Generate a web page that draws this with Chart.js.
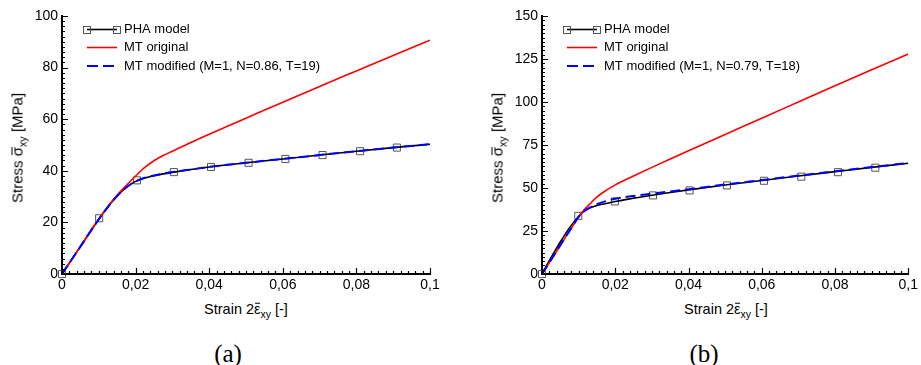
<!DOCTYPE html>
<html><head><meta charset="utf-8">
<script src="https://cdn.jsdelivr.net/npm/chart.js@4.4.0/dist/chart.umd.min.js"></script>
<style>
html,body{margin:0;padding:0;background:#fff;}
body{width:921px;height:365px;overflow:hidden;position:relative;font-family:"Liberation Sans",Arial,Helvetica,sans-serif;color:#000;}
canvas{position:absolute;top:0;}
.t{position:absolute;white-space:nowrap;font-size:14.5px;line-height:1;}
.ol{position:relative;display:inline-block;line-height:1;}
.ol::before{content:'';position:absolute;left:0.06em;right:0.02em;top:0.1em;border-top:1px solid #000;}
.t sub{font-size:0.72em;vertical-align:-0.4em;line-height:0;}
.cap{position:absolute;font-family:"Liberation Serif","DejaVu Serif",serif;font-size:25px;transform:translate(-50%,-50%);line-height:1;}
</style></head>
<body>
<canvas id="ca" width="460" height="300" style="left:0"></canvas>
<canvas id="cb" width="461" height="300" style="left:460px"></canvas>
<div class="t" style="left:17px;top:148px;transform:translate(-50%,-50%) rotate(-90deg);font-size:15px">Stress <span class="ol">σ</span><sub>xy</sub> [MPa]</div>
<div class="t" style="left:497px;top:148px;transform:translate(-50%,-50%) rotate(-90deg);font-size:15px">Stress <span class="ol">σ</span><sub>xy</sub> [MPa]</div>
<div class="t" style="left:246px;top:309px;transform:translate(-50%,-50%)">Strain 2<span class="ol">ε</span><sub>xy</sub> [-]</div>
<div class="t" style="left:726px;top:309px;transform:translate(-50%,-50%)">Strain 2<span class="ol">ε</span><sub>xy</sub> [-]</div>
<div class="cap" style="left:228px;top:353px">(a)</div>
<div class="cap" style="left:704px;top:353px">(b)</div>
<script>
// ---------- data ----------
const legendA = ['PHA model', 'MT original', 'MT modified (M=1, N=0.86, T=19)'];
const legendB = ['PHA model', 'MT original', 'MT modified (M=1, N=0.79, T=18)'];

const xTickValues = [0, 0.02, 0.04, 0.06, 0.08, 0.1];
const xTickLabels = ['0', '0,02', '0,04', '0,06', '0,08', '0,1'];
const yTickValuesA = [0, 20, 40, 60, 80, 100];
const yTickLabelsA = ['0', '20', '40', '60', '80', '100'];
const yTickValuesB = [0, 25, 50, 75, 100, 125, 150];
const yTickLabelsB = ['0', '25', '50', '75', '100', '125', '150'];

// (a)
const strainA = [0, 0.005, 0.01, 0.0125, 0.015, 0.0175, 0.02, 0.0225, 0.025, 0.0275, 0.03, 0.035, 0.04, 0.05, 0.06, 0.07, 0.08, 0.09, 0.1];
const mtOrigA = [0, 10.6, 21.2, 26.2, 30.6, 34.4, 38.0, 41.3, 43.9, 45.9, 47.6, 51.0, 54.2, 60.4, 66.6, 72.7, 78.7, 84.7, 90.6];
const mtModA  = [0, 10.6, 21.2, 26.0, 30.3, 33.6, 35.9, 37.3, 38.2, 38.9, 39.5, 40.5, 41.5, 43.1, 44.6, 46.1, 47.6, 49.0, 50.3];
const phaA    = [0, 10.7, 21.3, 26.1, 30.3, 33.6, 35.9, 37.2, 38.1, 38.8, 39.4, 40.5, 41.5, 43.1, 44.6, 46.1, 47.6, 49.0, 50.3];
const markerStrainA = [0, 0.0101, 0.0204, 0.0304, 0.0405, 0.0507, 0.0607, 0.0708, 0.081, 0.091];
const markerStressA = [0, 21.6, 36.3, 39.5, 41.5, 43.1, 44.6, 46.1, 47.6, 49.0];

// (b)
const strainB = [0, 0.0025, 0.005, 0.0075, 0.01, 0.0115, 0.013, 0.015, 0.0175, 0.02, 0.025, 0.03, 0.035, 0.04, 0.05, 0.06, 0.07, 0.08, 0.09, 0.1];
const mtOrigB = [0, 8.3, 16.6, 24.9, 33.1, 37.3, 40.6, 44.8, 48.6, 51.8, 57.0, 62.0, 66.9, 71.7, 81.1, 90.6, 100.0, 109.4, 118.7, 127.9];
const mtModB  = [0, 8.3, 16.7, 25.0, 33.2, 36.5, 38.6, 40.6, 42.4, 43.7, 45.4, 46.7, 48.0, 49.3, 52.0, 54.6, 57.2, 59.7, 62.2, 64.5];
const phaB    = [0, 9.6, 18.6, 26.8, 33.6, 36.6, 38.3, 39.8, 41.0, 42.1, 44.1, 45.8, 47.4, 48.9, 51.7, 54.4, 57.0, 59.5, 62.0, 64.4];
const markerStrainB = [0, 0.0099, 0.0199, 0.0303, 0.0403, 0.0505, 0.0606, 0.0708, 0.0808, 0.091];
const markerStressB = [0, 33.8, 42.2, 45.7, 48.6, 51.5, 54.2, 56.6, 59.2, 61.8];

// ---------- helpers ----------
const FONT = '"Liberation Sans", Arial, Helvetica, sans-serif';
const pts = (xs, ys) => xs.map((x, i) => ({x: x, y: ys[i]}));

const inwardTicks = {
  id: 'inwardTicks',
  afterDraw(chart, args, o) {
    const {ctx, chartArea: ca, scales: {x, y}} = chart;
    ctx.save();
    ctx.strokeStyle = '#000';
    ctx.lineWidth = 1.2;
    ctx.beginPath();
    for (let i = 0; i <= o.xMinorN; i++) {
      const v = x.min + i * (x.max - x.min) / o.xMinorN;
      const px = Math.round(x.getPixelForValue(v)) + 0.5;
      const len = (i % o.xPerMajor === 0) ? 6 : 3;
      ctx.moveTo(px, ca.bottom);
      ctx.lineTo(px, ca.bottom - len);
    }
    for (let i = 0; i <= o.yMinorN; i++) {
      const v = y.min + i * (y.max - y.min) / o.yMinorN;
      const py = Math.round(y.getPixelForValue(v)) + 0.5;
      const len = (i % o.yPerMajor === 0) ? 6 : 3;
      ctx.moveTo(ca.left, py);
      ctx.lineTo(ca.left + len, py);
    }
    ctx.stroke();
    ctx.restore();
  }
};

const customLegend = {
  id: 'customLegend',
  afterDraw(chart, args, o) {
    const {ctx, chartArea: ca} = chart;
    const x0 = ca.left + 25, x1 = ca.left + 55, tx = ca.left + 62;
    const rows = [ca.top + 13.5, ca.top + 31.5, ca.top + 50];
    ctx.save();
    // PHA
    ctx.strokeStyle = '#000'; ctx.lineWidth = 1.6;
    ctx.beginPath(); ctx.moveTo(x0, rows[0]); ctx.lineTo(x1, rows[0]); ctx.stroke();
    ctx.strokeStyle = '#555'; ctx.lineWidth = 1;
    [x0, x1].forEach(px => ctx.strokeRect(Math.round(px) - 3.5, Math.round(rows[0]) - 3.5, 7, 7));
    // MT original
    ctx.strokeStyle = '#ff0000'; ctx.lineWidth = 1.6;
    ctx.beginPath(); ctx.moveTo(x0, rows[1]); ctx.lineTo(x1, rows[1]); ctx.stroke();
    // MT modified
    ctx.strokeStyle = '#0000ff'; ctx.lineWidth = 2; ctx.setLineDash([11, 5]);
    ctx.beginPath(); ctx.moveTo(x0, rows[2]); ctx.lineTo(x1, rows[2]); ctx.stroke();
    ctx.setLineDash([]);
    ctx.fillStyle = '#000';
    ctx.font = '13px ' + FONT;
    ctx.textBaseline = 'middle';
    o.labels.forEach((t, i) => ctx.fillText(t, tx, rows[i]));
    ctx.restore();
  }
};

function makeChart(id, cfg) {
  return new Chart(document.getElementById(id), {
    type: 'scatter',
    data: {
      datasets: [
        {label: 'MT modified', data: pts(cfg.strain, cfg.mod), showLine: true, borderColor: '#0000ff', borderWidth: 2, borderDash: [10, 5], pointRadius: 0, cubicInterpolationMode: 'monotone', fill: false},
        {label: 'MT original', data: pts(cfg.strain, cfg.orig), showLine: true, borderColor: '#ff0000', borderWidth: 1.6, pointRadius: 0, cubicInterpolationMode: 'monotone', fill: false},
        {label: 'PHA model', data: pts(cfg.strain, cfg.pha), showLine: true, borderColor: '#000000', borderWidth: 1.6, pointRadius: 0, cubicInterpolationMode: 'monotone', fill: false},
        {label: 'PHA markers', data: pts(cfg.mStrain, cfg.mStress), showLine: false, pointStyle: 'rect', pointRadius: 5, borderColor: '#555', borderWidth: 1, backgroundColor: 'rgba(0,0,0,0)', clip: false}
      ]
    },
    options: {
      responsive: false, animation: false, devicePixelRatio: 1,
      layout: {padding: {top: 16, right: cfg.padRight, left: 0, bottom: 0}},
      events: [],
      plugins: {
        legend: {display: false}, tooltip: {enabled: false},
        inwardTicks: {xMinorN: 50, xPerMajor: 10, yMinorN: cfg.yMinorN, yPerMajor: 10},
        customLegend: {labels: cfg.legend}
      },
      scales: {
        x: {
          type: 'linear', min: 0, max: 0.1,
          grid: {display: false, drawTicks: false},
          border: {display: true, color: '#000', width: 2},
          afterBuildTicks: s => { s.ticks = xTickValues.map(v => ({value: v})); },
          afterFit: s => { s.height = 26; },
          ticks: {color: '#000', font: {family: FONT, size: 14}, padding: 3, maxRotation: 0, autoSkip: false,
                  callback: (v, i) => xTickLabels[i]}
        },
        y: {
          type: 'linear', min: 0, max: cfg.yMax,
          grid: {display: false, drawTicks: false},
          border: {display: true, color: '#000', width: 2},
          afterBuildTicks: s => { s.ticks = cfg.yVals.map(v => ({value: v})); },
          afterFit: s => { s.width = cfg.left; },
          ticks: {color: '#000', font: {family: FONT, size: 14}, padding: 4, autoSkip: false,
                  callback: (v, i) => cfg.yLabels[i]}
        }
      }
    },
    plugins: [inwardTicks, customLegend]
  });
}

makeChart('ca', {strain: strainA, orig: mtOrigA, mod: mtModA, pha: phaA, mStrain: markerStrainA, mStress: markerStressA,
  yMax: 100, yVals: yTickValuesA, yLabels: yTickLabelsA, yMinorN: 50, left: 62, padRight: 30, legend: legendA});
makeChart('cb', {strain: strainB, orig: mtOrigB, mod: mtModB, pha: phaB, mStrain: markerStrainB, mStress: markerStressB,
  yMax: 150, yVals: yTickValuesB, yLabels: yTickLabelsB, yMinorN: 60, left: 82, padRight: 11, legend: legendB});
</script>
</body></html>
